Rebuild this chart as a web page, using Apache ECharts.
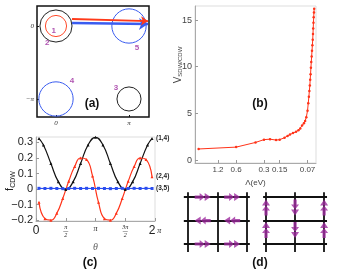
<!DOCTYPE html>
<html><head><meta charset="utf-8">
<script src="https://cdn.jsdelivr.net/npm/echarts@6/dist/echarts.min.js"></script>
<style>html,body{margin:0;padding:0;background:#fff}#c{width:338px;height:273px}</style>
</head><body><div id="c"></div>
<script>
// ---------- panel (a): Fermi pockets (units of pi) ----------
const fsCentersX = [0, 0, 1, 0, 1];
const fsCentersY = [0, 0, 0, -1, -1];
const fsRadii = [0.145, 0.22, 0.235, 0.235, 0.165];
const fsColors = ['#ff4a2a', '#222222', '#3a5cf0', '#3a5cf0', '#222222'];
const fsLabels = ['1', '2', '5', '4', '3'];
const fsLabelX = [-0.03, -0.12, 1.11, 0.22, 0.82];
const fsLabelY = [-0.07, -0.23, -0.30, -0.75, -0.84];
const nestRedX = [0.22, 1.26], nestRedY = [0.096, 0.068];
const nestBlueX = [0.22, 1.26], nestBlueY = [0.041, 0.027];
const aTickX = [0, 1], aTickXLabels = ['0', 'π'];
const aTickY = [0, -1], aTickYLabels = ['0', '−π'];

// ---------- panel (b): V_SDW/CDW vs RG scale ----------
const bX = [0.03,0.34,0.50,0.57,0.62,0.67,0.70,0.74,0.765,0.785,0.81,0.835,0.855,0.87,0.885,0.9,0.91,0.92,0.93,0.936,0.941,0.945,0.949,0.952,0.955,0.958,0.961,0.964,0.967,0.970,0.973,0.975,0.977,0.979,0.981,0.983,0.985];
const bY = [1.2,1.4,1.9,2.2,2.25,2.15,2.2,2.4,2.6,2.75,2.9,3.05,3.2,3.4,3.7,3.95,4.2,4.6,5.3,6.1,6.8,7.4,8.0,8.6,9.2,9.9,10.5,11.1,11.7,12.3,12.9,13.5,14.1,14.7,15.3,15.8,16.2];
const bTickPos = [0.19, 0.34, 0.57, 0.70, 0.93];
const bTickLabels = ['1.2', '0.6', '0.3', '0.15', '0.07'];
const bYTicks = [0, 5, 10, 15];

// ---------- panel (c): f_CDW vs theta (theta in units of pi) ----------
const cThetaBlack = [0.05,0.125,0.25,0.375,0.5,0.625,0.75,0.875,1.0,1.125,1.25,1.375,1.5,1.625,1.75,1.875,1.95];
const cBlack = [0.325,0.284,0.165,0.048,-0.002,0.048,0.165,0.284,0.333,0.284,0.165,0.048,-0.002,0.048,0.165,0.284,0.325];
const cThetaRed = [0.05,0.15,0.25,0.35,0.45,0.55,0.65,0.75,0.85,0.95,1.05,1.15,1.25,1.35,1.45,1.55,1.65,1.75,1.85,1.95];
const cRed = [-0.085,-0.19,-0.2,-0.155,-0.06,0.05,0.145,0.2,0.19,0.085,-0.085,-0.19,-0.2,-0.155,-0.06,0.05,0.145,0.2,0.19,0.08];
const cThetaBlue = [0.05,0.15,0.25,0.35,0.45,0.55,0.65,0.75,0.85,0.95,1.05,1.15,1.25,1.35,1.45,1.55,1.65,1.75,1.85,1.95];
const cBlue = [0.005,0.004,0.005,0.004,0.003,0.004,0.005,0.004,0.005,0.004,0.005,0.004,0.003,0.004,0.005,0.004,0.005,0.004,0.005,0.004];
const cSeriesNames = ['(1,4)', '(2,4)', '(3,5)'];
const cXTicks = [0, 0.5, 1, 1.5, 2];
const cYTicks = [-0.2, -0.1, 0, 0.1, 0.2, 0.3];

// ---------- panel (d): lattice orders ----------
const latRows = [0, 1, 2], latCols = [0, 1, 2];
const dLeftArrowX = [0.5, 1.5, 0.5, 1.5, 0.5, 1.5];
const dLeftArrowY = [0, 0, 1, 1, 2, 2];
const dLeftArrowDir = [0, 0, 180, 180, 0, 0];
const dRightArrowX = [0, 0, 1, 1, 2, 2];
const dRightArrowY = [0.45, 1.4, 0.45, 1.4, 0.45, 1.4];
const dRightArrowDir = [90, 90, -90, -90, 90, 90];

const PURPLE = '#9c2a9e';
const FONT = 'Liberation Sans';
const arrowPath = 'path://M0,3L5,3L5,0L10,5L10,0L16,5L10,10L10,5L5,10L5,7L0,7Z';

function lookup(pos, labels, v) {
  for (let i = 0; i < pos.length; i++) if (Math.abs(pos[i] - v) < 1e-6) return labels[i];
  return '';
}

const chart = echarts.init(document.getElementById('c'), null, {renderer: 'canvas'});

const hiddenAxis = (gi, min, max, inverse) => ({
  gridIndex: gi, type: 'value', min: min, max: max, inverse: !!inverse,
  axisLine: {show: false, onZero: false}, axisTick: {show: false}, axisLabel: {show: false}, splitLine: {show: false}
});

const latticeLines = (xExt, yExt) => {
  const d = [];
  latRows.forEach(r => d.push({coords: [[xExt[0], r], [xExt[1], r]]}));
  latCols.forEach(c => d.push({coords: [[c, yExt[0]], [c, yExt[1]]]}));
  return d;
};

const option = {
  animation: false,
  backgroundColor: '#fff',
  grid: [
    {left: 37, top: 6, width: 112, height: 111, show: true, borderColor: '#111', borderWidth: 1.5},
    {left: 195, top: 6, width: 121, height: 157, show: true, borderColor: '#dddddd', borderWidth: 1},
    {left: 36, top: 137, width: 119, height: 84, show: true, borderColor: '#dddddd', borderWidth: 1},
    {left: 180, top: 190, width: 76, height: 66},
    {left: 258, top: 190, width: 76, height: 66}
  ],
  xAxis: [
    {gridIndex: 0, type: 'value', min: -0.26, max: 1.274,
      axisLine: {show: false, onZero: false}, splitLine: {show: false},
      axisTick: {show: true, inside: true, length: 2, customValues: aTickX, lineStyle: {color: '#111'}},
      axisLabel: {customValues: aTickX, formatter: v => lookup(aTickX, aTickXLabels, v),
        fontFamily: 'Liberation Serif', fontStyle: 'italic', fontSize: 7, color: '#333', margin: 3}},
    {gridIndex: 1, type: 'value', min: 0, max: 1,
      axisLine: {show: true, onZero: false, lineStyle: {color: '#aaaaaa'}}, splitLine: {show: false},
      axisTick: {show: true, inside: true, length: 3, customValues: bTickPos, lineStyle: {color: '#999'}},
      axisLabel: {customValues: bTickPos, formatter: v => lookup(bTickPos, bTickLabels, v),
        fontFamily: FONT, fontSize: 8, color: '#444', margin: 3},
      name: 'Λ(eV)', nameLocation: 'middle', nameGap: 14,
      nameTextStyle: {fontFamily: FONT, fontSize: 8, color: '#444'}},
    {gridIndex: 2, type: 'value', min: 0, max: 2,
      axisLine: {show: true, onZero: false, lineStyle: {color: '#aaaaaa'}}, splitLine: {show: false},
      axisTick: {show: true, inside: true, length: 3, customValues: cXTicks, lineStyle: {color: '#999'}},
      axisLabel: {customValues: cXTicks, margin: 4, color: '#222',
        formatter: v => {
          if (Math.abs(v) < 1e-6) return '{big|0}';
          if (Math.abs(v - 0.5) < 1e-6) return '{fr|π}\n{ln|—}\n{fr|2}';
          if (Math.abs(v - 1) < 1e-6) return '{pi|π}';
          if (Math.abs(v - 1.5) < 1e-6) return '{fr|3π}\n{ln|—}\n{fr|2}';
          return '{big|2}{pi| π}';
        },
        rich: {
          big: {fontFamily: FONT, fontSize: 12, color: '#222'},
          pi: {fontFamily: 'Liberation Serif', fontStyle: 'italic', fontSize: 8, color: '#222'},
          fr: {fontFamily: 'Liberation Serif', fontStyle: 'italic', fontSize: 6, lineHeight: 5, color: '#222'},
          ln: {fontSize: 5, lineHeight: 3, color: '#222'}
        }},
      name: 'θ', nameLocation: 'middle', nameGap: 21,
      nameTextStyle: {fontFamily: 'Liberation Serif', fontStyle: 'italic', fontSize: 10, color: '#666'}},
    hiddenAxis(3, -0.27, 2.31),
    hiddenAxis(4, -0.276, 2.34)
  ],
  yAxis: [
    {gridIndex: 0, type: 'value', min: -1.247, max: 0.274,
      axisLine: {show: false, onZero: false}, splitLine: {show: false},
      axisTick: {show: true, inside: true, length: 2, customValues: aTickY, lineStyle: {color: '#111'}},
      axisLabel: {customValues: aTickY, formatter: v => lookup(aTickY, aTickYLabels, v),
        fontFamily: 'Liberation Serif', fontStyle: 'italic', fontSize: 7, color: '#333', margin: 3}},
    {gridIndex: 1, type: 'value', min: -0.3, max: 16.5,
      axisLine: {show: true, onZero: false, lineStyle: {color: '#aaaaaa'}}, splitLine: {show: false},
      axisTick: {show: true, inside: true, length: 3, customValues: bYTicks, lineStyle: {color: '#999'}},
      axisLabel: {customValues: bYTicks, fontFamily: FONT, fontSize: 9, color: '#444', margin: 3}},
    {gridIndex: 2, type: 'value', min: -0.205, max: 0.335,
      axisLine: {show: true, onZero: false, lineStyle: {color: '#aaaaaa'}}, splitLine: {show: false},
      axisTick: {show: true, inside: true, length: 3, customValues: cYTicks, lineStyle: {color: '#999'}},
      axisLabel: {customValues: cYTicks, fontFamily: FONT, fontSize: 11, color: '#222', margin: 3,
        formatter: v => (Math.abs(v) < 1e-9 ? '0' : (v < 0 ? '−' : '') + Math.abs(v).toFixed(1))}},
    hiddenAxis(3, -0.3, 2.51, true),
    hiddenAxis(4, -0.3, 2.51, true)
  ],
  series: [
    // (a) pockets
    {type: 'custom', xAxisIndex: 0, yAxisIndex: 0, clip: false,
      data: fsCentersX.map((x, i) => [x, fsCentersY[i], fsRadii[i], i]),
      renderItem: (params, api) => {
        const p = api.coord([api.value(0), api.value(1)]);
        const r = api.size([api.value(2), 0])[0];
        const i = api.value(3);
        return {type: 'circle', shape: {cx: p[0], cy: p[1], r: r},
          style: {fill: 'none', stroke: fsColors[i], lineWidth: 1}};
      }},
    {type: 'scatter', xAxisIndex: 0, yAxisIndex: 0, symbolSize: 0,
      data: fsLabels.map((t, i) => ({value: [fsLabelX[i], fsLabelY[i]], name: t})),
      label: {show: true, position: 'inside', formatter: p => p.name, color: PURPLE,
        fontFamily: FONT, fontWeight: 'bold', fontSize: 8}},
    {type: 'lines', coordinateSystem: 'cartesian2d', xAxisIndex: 0, yAxisIndex: 0,
      symbol: ['none', 'arrow'], symbolSize: [0, 9],
      lineStyle: {color: '#3a5cf0', width: 2.5, opacity: 1},
      data: [{coords: nestBlueX.map((x, i) => [x, nestBlueY[i]])}]},
    {type: 'lines', coordinateSystem: 'cartesian2d', xAxisIndex: 0, yAxisIndex: 0,
      symbol: ['none', 'arrow'], symbolSize: [0, 7],
      lineStyle: {color: '#ff3a1a', width: 1.8, opacity: 1},
      data: [{coords: nestRedX.map((x, i) => [x, nestRedY[i]])}]},
    // (b)
    {type: 'line', xAxisIndex: 1, yAxisIndex: 1, data: bX.map((x, i) => [x, bY[i]]),
      symbol: 'circle', symbolSize: 2.5, showSymbol: true,
      lineStyle: {color: '#ff3319', width: 1}, itemStyle: {color: '#ff3319'}},
    // (c)
    {type: 'line', name: cSeriesNames[0], xAxisIndex: 2, yAxisIndex: 2, smooth: true,
      data: cThetaBlack.map((x, i) => [x, cBlack[i]]),
      symbol: 'triangle', symbolSize: 3, lineStyle: {color: '#111', width: 1.2}, itemStyle: {color: '#111'},
      endLabel: {show: true, formatter: cSeriesNames[0], fontFamily: FONT, fontWeight: 'bold', fontSize: 6.5, color: '#222', distance: 4}},
    {type: 'line', name: cSeriesNames[1], xAxisIndex: 2, yAxisIndex: 2, smooth: true,
      data: cThetaRed.map((x, i) => [x, cRed[i]]),
      symbol: 'triangle', symbolSize: 3, lineStyle: {color: '#ff3319', width: 1.2}, itemStyle: {color: '#ff3319'},
      endLabel: {show: true, formatter: cSeriesNames[1], fontFamily: FONT, fontWeight: 'bold', fontSize: 6.5, color: '#222', distance: 4}},
    {type: 'line', name: cSeriesNames[2], xAxisIndex: 2, yAxisIndex: 2,
      data: cThetaBlue.map((x, i) => [x, cBlue[i]]),
      symbol: 'rect', symbolSize: 3, lineStyle: {color: '#2a4df0', width: 1.2}, itemStyle: {color: '#2a4df0'},
      endLabel: {show: true, formatter: cSeriesNames[2], fontFamily: FONT, fontWeight: 'bold', fontSize: 6.5, color: '#222', distance: 4}},
    // (d) lattices
    {type: 'lines', coordinateSystem: 'cartesian2d', xAxisIndex: 3, yAxisIndex: 3,
      lineStyle: {color: '#111', width: 1.8, opacity: 1}, data: latticeLines([-0.14, 2.1], [-0.2, 2.34])},
    {type: 'lines', coordinateSystem: 'cartesian2d', xAxisIndex: 4, yAxisIndex: 4,
      lineStyle: {color: '#111', width: 1.8, opacity: 1}, data: latticeLines([-0.1, 2.1], [-0.2, 2.34])},
    {type: 'scatter', xAxisIndex: 3, yAxisIndex: 3, symbol: arrowPath, symbolSize: [16, 8], symbolKeepAspect: false,
      itemStyle: {color: PURPLE},
      data: dLeftArrowX.map((x, i) => ({value: [x, dLeftArrowY[i]], symbolRotate: dLeftArrowDir[i]}))},
    {type: 'scatter', xAxisIndex: 4, yAxisIndex: 4, symbol: arrowPath, symbolSize: [16, 8], symbolKeepAspect: false,
      itemStyle: {color: PURPLE},
      data: dRightArrowX.map((x, i) => ({value: [x, dRightArrowY[i]], symbolRotate: dRightArrowDir[i]}))}
  ],
  graphic: [
    {type: 'text', x: 92, y: 104, style: {text: '(a)', fontFamily: FONT, fontWeight: 'bold', fontSize: 12, fill: '#111', align: 'center', verticalAlign: 'middle'}},
    {type: 'text', x: 260, y: 104, style: {text: '(b)', fontFamily: FONT, fontWeight: 'bold', fontSize: 12, fill: '#111', align: 'center', verticalAlign: 'middle'}},
    {type: 'text', x: 90, y: 263, style: {text: '(c)', fontFamily: FONT, fontWeight: 'bold', fontSize: 12, fill: '#111', align: 'center', verticalAlign: 'middle'}},
    {type: 'text', x: 260, y: 263, style: {text: '(d)', fontFamily: FONT, fontWeight: 'bold', fontSize: 12, fill: '#111', align: 'center', verticalAlign: 'middle'}},
    {type: 'text', x: 178, y: 65, rotation: Math.PI / 2,
      style: {text: '{v|V}{s|SDW/CDW}', align: 'center', verticalAlign: 'middle',
        rich: {v: {fontFamily: FONT, fontSize: 10, fill: '#444'}, s: {fontFamily: FONT, fontSize: 6, fill: '#444', padding: [5, 0, 0, 0]}}}},
    {type: 'text', x: 10, y: 181, rotation: Math.PI / 2,
      style: {text: '{v|f}{s|CDW}', align: 'center', verticalAlign: 'middle',
        rich: {v: {fontFamily: FONT, fontSize: 11, fill: '#222'}, s: {fontFamily: FONT, fontSize: 7, fill: '#222', padding: [6, 0, 0, 0]}}}}
  ]
};
chart.setOption(option);
</script>
</body></html>
